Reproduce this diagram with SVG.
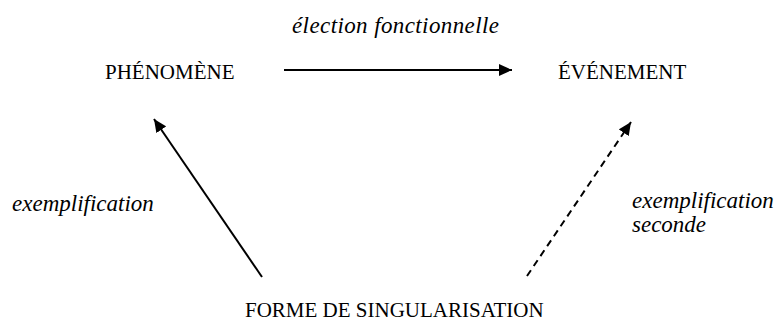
<svg xmlns="http://www.w3.org/2000/svg" width="777" height="322" viewBox="0 0 777 322">
<style>
.node{font-family:"Liberation Serif","Times New Roman",serif;font-size:21px;fill:#000}
.lbl{font-family:"Liberation Serif","Times New Roman",serif;font-size:23px;font-style:italic;fill:#000}
.edge{stroke:#000;stroke-width:2;fill:none;marker-end:url(#ah)}
.dash{stroke-dasharray:7 5}
</style>
<defs>
<marker id="ah" markerUnits="userSpaceOnUse" markerWidth="14" markerHeight="12" refX="13" refY="6" orient="auto">
<path d="M0,0 L13,6 L0,12 Z" fill="#000"/>
</marker>
</defs>
<rect width="777" height="322" fill="#fff"/>
<g id="phenomene"><text class="node" x="105" y="79">PHÉNOMÈNE</text></g>
<g id="evenement"><text class="node" x="558" y="79">ÉVÉNEMENT</text></g>
<g id="forme"><text class="node" x="245" y="317">FORME DE SINGULARISATION</text></g>
<g id="connectors">
<line class="edge" x1="284" y1="70" x2="512" y2="70"/>
<line class="edge" x1="262" y1="277" x2="154" y2="119"/>
<line class="edge dash" x1="527" y1="276" x2="631" y2="122"/>
</g>
<g id="labels">
<text class="lbl" x="292" y="33" textLength="207" lengthAdjust="spacing">élection fonctionnelle</text>
<text class="lbl" x="12" y="211">exemplification</text>
<text class="lbl" x="632" y="208">exemplification</text>
<text class="lbl" x="632" y="232">seconde</text>
</g>
</svg>
